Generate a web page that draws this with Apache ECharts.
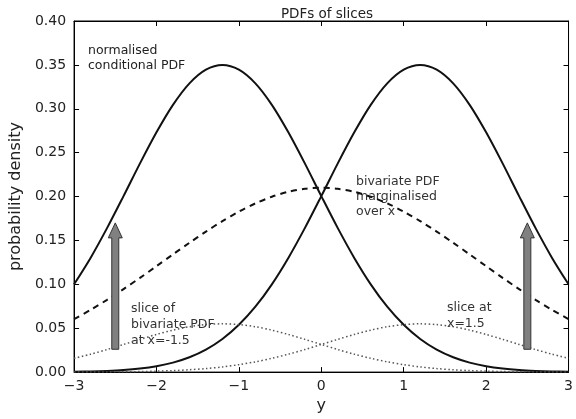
<!DOCTYPE html>
<html><head><meta charset="utf-8">
<script src="https://cdn.jsdelivr.net/npm/echarts@6/dist/echarts.min.js"></script>
<style>html,body{margin:0;padding:0;background:#fff}#c{width:576px;height:419px}</style>
</head><body><div id="c"></div>
<script>
const xs = [-3,-2.8,-2.6,-2.4,-2.2,-2,-1.8,-1.6,-1.4,-1.2,-1,-0.8,-0.6,-0.4,-0.2,0,0.2,0.4,0.6,0.8,1,1.2,1.4,1.6,1.8,2,2.2,2.4,2.6,2.8,3];
const condRight = [0.0004,0.0007,0.0013,0.0023,0.0040,0.0067,0.0108,0.0169,0.0256,0.0377,0.0539,0.0745,0.1000,0.1301,0.1640,0.2005,0.2378,0.2732,0.3045,0.3290,0.3446,0.3500,0.3446,0.3290,0.3045,0.2732,0.2378,0.2005,0.1640,0.1301,0.1000];
const condLeft = [0.1000,0.1301,0.1640,0.2005,0.2378,0.2732,0.3045,0.3290,0.3446,0.3500,0.3446,0.3290,0.3045,0.2732,0.2378,0.2005,0.1640,0.1301,0.1000,0.0745,0.0539,0.0377,0.0256,0.0169,0.0108,0.0067,0.0040,0.0023,0.0013,0.0007,0.0004];
const marginal = [0.0604,0.0709,0.0823,0.0946,0.1074,0.1207,0.1341,0.1473,0.1601,0.1720,0.1828,0.1922,0.1998,0.2054,0.2088,0.2100,0.2088,0.2054,0.1998,0.1922,0.1828,0.1720,0.1601,0.1473,0.1341,0.1207,0.1074,0.0946,0.0823,0.0709,0.0604];
const sliceRight = [0.0001,0.0001,0.0002,0.0004,0.0006,0.0011,0.0017,0.0027,0.0040,0.0059,0.0085,0.0117,0.0157,0.0204,0.0257,0.0315,0.0373,0.0429,0.0478,0.0517,0.0541,0.0550,0.0541,0.0517,0.0478,0.0429,0.0373,0.0315,0.0257,0.0204,0.0157];
const sliceLeft = [0.0157,0.0204,0.0257,0.0315,0.0373,0.0429,0.0478,0.0517,0.0541,0.0550,0.0541,0.0517,0.0478,0.0429,0.0373,0.0315,0.0257,0.0204,0.0157,0.0117,0.0085,0.0059,0.0040,0.0027,0.0017,0.0011,0.0006,0.0004,0.0002,0.0001,0.0001];
const arrowX = [-2.5, 2.5];
const arrowFrom = [0.026, 0.026];
const arrowTo = [0.17, 0.17];

const pairs = v => xs.map((x,i)=>[x,v[i]]);
const FONT = 'DejaVu Sans';
const chart = echarts.init(document.getElementById('c'), null, {renderer:'canvas'});
const tickInside = {show:true, inside:true, length:5, lineStyle:{color:'#000'}};
const axLine = {show:true, onZero:false, lineStyle:{color:'#000'}};
const lineSeries = (data, type, width, color) => ({
  type:'line', data:pairs(data), showSymbol:false, smooth:0.3, silent:true,
  lineStyle:{color:color, width:width, type:type}, z:3
});
chart.setOption({
  animation:false,
  title:{text:'PDFs of slices', left:322, top:2, textAlign:'center',
    textStyle:{fontFamily:FONT, fontSize:13.5, fontWeight:'normal', color:'#222'}},
  grid:{left:72, right:7, top:21, bottom:42, show:true, borderColor:'#000', borderWidth:1},
  xAxis:[{type:'value', min:-3, max:3, interval:1, name:'y', nameLocation:'middle', nameGap:21,
    nameTextStyle:{fontFamily:FONT, fontSize:16, color:'#222'},
    axisLine:axLine, axisTick:tickInside, splitLine:{show:false},
    axisLabel:{fontFamily:FONT, fontSize:14, color:'#222', margin:7,
      formatter:v=>String(v).replace('-', '\u2212')}},
    {type:'value', position:'top', min:-3, max:3, interval:1, axisLine:axLine,
     axisTick:tickInside, axisLabel:{show:false}, splitLine:{show:false}}],
  yAxis:[{type:'value', min:0, max:0.4, interval:0.05, name:'probability density', nameLocation:'middle', nameGap:46,
    nameTextStyle:{fontFamily:FONT, fontSize:16, color:'#222'},
    axisLine:axLine, axisTick:tickInside, splitLine:{show:false},
    axisLabel:{fontFamily:FONT, fontSize:14, color:'#222', margin:8, formatter:v=>v.toFixed(2)}},
    {type:'value', position:'right', min:0, max:0.4, interval:0.05, axisLine:axLine,
     axisTick:tickInside, axisLabel:{show:false}, splitLine:{show:false}}],
  series:[
    lineSeries(condLeft,'solid',2,'#111'),
    lineSeries(condRight,'solid',2,'#111'),
    lineSeries(marginal,[6,5],2,'#111'),
    lineSeries(sliceLeft,[1.5,2.5],1.5,'#555'),
    lineSeries(sliceRight,[1.5,2.5],1.5,'#555'),
    {type:'custom', silent:true, z:5,
     data: arrowX.map((x,i)=>[x, arrowFrom[i], arrowTo[i]]),
     renderItem:(params, api)=>{
       const b = api.coord([api.value(0), api.value(1)]);
       const t = api.coord([api.value(0), api.value(2)]);
       const sw = 3.5, hw = 7, hl = 15;
       const pts = [[b[0]-sw,b[1]],[b[0]-sw,t[1]+hl],[b[0]-hw,t[1]+hl],[t[0],t[1]],
                    [b[0]+hw,t[1]+hl],[b[0]+sw,t[1]+hl],[b[0]+sw,b[1]]];
       return {type:'polygon', shape:{points:pts}, style:{fill:'#808080', stroke:'#333', lineWidth:1}};
     }}
  ],
  graphic:[
    {type:'text', left:88, top:43, style:{text:'normalised\nconditional PDF', font:'12.5px "DejaVu Sans"', fill:'#222', lineHeight:15}},
    {type:'text', left:356, top:174, style:{text:'bivariate PDF\nmarginalised\nover x', font:'12.5px "DejaVu Sans"', fill:'#333', lineHeight:15}},
    {type:'text', left:131, top:301, style:{text:'slice of\nbivariate PDF\nat x=-1.5', font:'12.5px "DejaVu Sans"', fill:'#333', lineHeight:16}},
    {type:'text', left:447, top:300, style:{text:'slice at\nx=1.5', font:'12.5px "DejaVu Sans"', fill:'#333', lineHeight:16}}
  ]
});
</script></body></html>
